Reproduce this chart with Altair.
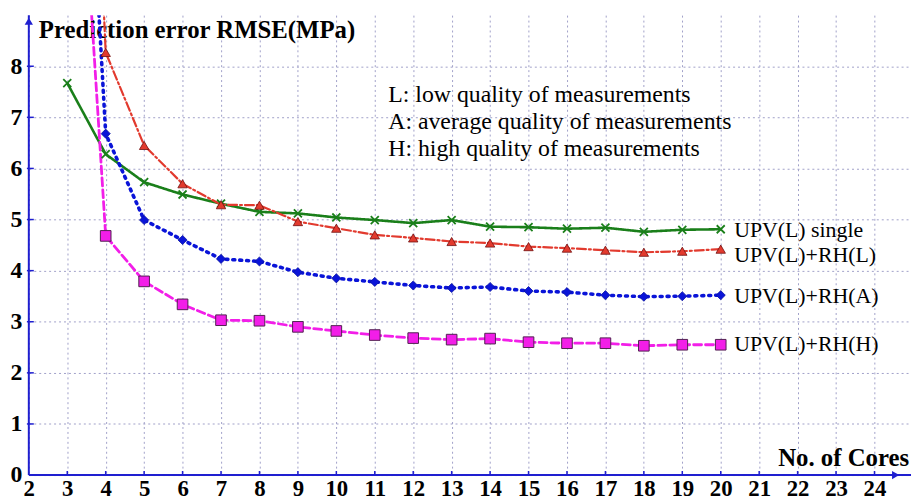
import altair as alt
import pandas as pd

# ---------------- data ----------------
cores = list(range(3, 21))
upv_single = [7.67, 6.28, 5.73, 5.49, 5.31, 5.15, 5.12, 5.04, 4.99, 4.93, 4.99, 4.86, 4.85, 4.82, 4.84, 4.76, 4.80, 4.81]
upv_rh_l = [25.0, 8.27, 6.45, 5.70, 5.29, 5.28, 4.96, 4.83, 4.70, 4.64, 4.57, 4.54, 4.47, 4.44, 4.40, 4.36, 4.38, 4.42]
upv_rh_a = [20.0, 6.68, 4.99, 4.60, 4.23, 4.18, 3.97, 3.85, 3.78, 3.71, 3.66, 3.68, 3.60, 3.58, 3.52, 3.49, 3.50, 3.52]
upv_rh_h = [16.5, 4.68, 3.79, 3.34, 3.03, 3.02, 2.90, 2.82, 2.74, 2.68, 2.65, 2.67, 2.60, 2.58, 2.58, 2.53, 2.55, 2.55]

series_names = ["UPV(L) single", "UPV(L)+RH(L)", "UPV(L)+RH(A)", "UPV(L)+RH(H)"]
series_label_y = [4.80, 4.30, 3.50, 2.57]
series_label_x = 20.35

x_ticks = list(range(2, 25))
y_ticks = list(range(0, 9))
X_MIN, X_MAX = 2, 24.95
Y_MIN, Y_MAX = 0, 9

notes = ["L: low quality of measurements",
         "A: average quality of measurements",
         "H: high quality of measurements"]
notes_x = 11.35
notes_y = [7.44, 6.90, 6.37]

y_title = "Prediction error RMSE(MPa)"
x_title = "No. of Cores"

FONT = "Liberation Serif"
AXIS_BLUE = "#1f1fd0"
GRID = "#a0a0c8"

# ---------------- encodings ----------------
xscale = alt.Scale(domain=[X_MIN, X_MAX], nice=False, zero=False)
yscale = alt.Scale(domain=[Y_MIN, Y_MAX], nice=False, zero=False)
xaxis = alt.Axis(values=x_ticks, grid=True, gridDash=[2, 3], gridColor=GRID, gridWidth=1,
                 ticks=False, domain=False, title=None, labelFont=FONT, labelFontSize=23,
                 labelFontWeight="bold", labelColor="black", labelPadding=3, labelFlush=False)
yaxis = alt.Axis(values=y_ticks, grid=True, gridDash=[2, 3], gridColor=GRID, gridWidth=1,
                 ticks=False, domain=False, title=None, labelFont=FONT, labelFontSize=24,
                 labelFontWeight="bold", labelColor="black", labelPadding=7, labelFlush=False)


def X(field="x"):
    return alt.X(f"{field}:Q", scale=xscale, axis=xaxis)


def Y(field="y"):
    return alt.Y(f"{field}:Q", scale=yscale, axis=yaxis)


# ---------------- layers ----------------
layers = []

title_df = pd.DataFrame({"x": [2.26], "y": [8.70], "t": [y_title]})
layers.append(alt.Chart(title_df).mark_text(align="left", baseline="middle", font=FONT, fontSize=25,
                                            fontWeight="bold", color="black")
              .encode(x=X(), y=Y(), text="t:N"))
xt_df = pd.DataFrame({"x": [X_MAX - 0.05], "y": [0.34], "t": [x_title]})
layers.append(alt.Chart(xt_df).mark_text(align="right", baseline="middle", font=FONT, fontSize=25,
                                         fontWeight="bold", color="black")
              .encode(x=X(), y=Y(), text="t:N"))
notes_df = pd.DataFrame({"x": [notes_x] * 3, "y": notes_y, "t": notes})
layers.append(alt.Chart(notes_df).mark_text(align="left", baseline="middle", font=FONT, fontSize=24,
                                            color="black")
              .encode(x=X(), y=Y(), text="t:N"))
lab_df = pd.DataFrame({"x": [series_label_x] * 4, "y": series_label_y, "t": series_names})
layers.append(alt.Chart(lab_df).mark_text(align="left", baseline="middle", font=FONT, fontSize=22,
                                          color="black")
              .encode(x=X(), y=Y(), text="t:N"))

# axes lines, ticks and arrows
ax_df = pd.DataFrame({"x": [X_MIN], "x2": [X_MAX], "y": [Y_MIN], "y2": [Y_MAX]})
layers.append(alt.Chart(ax_df).mark_rule(color=AXIS_BLUE, strokeWidth=2)
              .encode(x=X(), x2="x2:Q", y=Y(), y2=alt.Y2("y:Q")))
layers.append(alt.Chart(ax_df).mark_rule(color=AXIS_BLUE, strokeWidth=2)
              .encode(x=X(), x2=alt.X2("x:Q"), y=Y(), y2="y2:Q"))
xt = pd.DataFrame({"x": x_ticks[1:], "y": [Y_MIN] * (len(x_ticks) - 1), "y2": [Y_MIN + 0.08] * (len(x_ticks) - 1)})
layers.append(alt.Chart(xt).mark_rule(color=AXIS_BLUE, strokeWidth=1.5)
              .encode(x=X(), y=Y(), y2="y2:Q"))
yt = pd.DataFrame({"y": y_ticks[1:], "x": [X_MIN - 0.05] * (len(y_ticks) - 1), "x2": [X_MIN + 0.13] * (len(y_ticks) - 1)})
layers.append(alt.Chart(yt).mark_rule(color=AXIS_BLUE, strokeWidth=1.5)
              .encode(x=X(), x2="x2:Q", y=Y()))
arr_up = pd.DataFrame({"x": [X_MIN], "y": [Y_MAX - 0.12]})
layers.append(alt.Chart(arr_up).mark_point(shape="triangle-up", filled=True, color=AXIS_BLUE, size=70, opacity=1)
              .encode(x=X(), y=Y()))
arr_rt = pd.DataFrame({"x": [X_MAX - 0.4], "y": [Y_MIN]})
layers.append(alt.Chart(arr_rt).mark_point(shape="triangle-right", filled=True, color=AXIS_BLUE, size=70, opacity=1)
              .encode(x=X(), y=Y()))

# series
styles = [
    dict(vals=upv_single, color="#1a7f1a", dash=[1, 0], width=2.6,
         shape="M-1,-1L1,1M-1,1L1,-1", filled=False, size=65, stroke="#1a7f1a", sw=1.8),
    dict(vals=upv_rh_l, color="#e23a2e", dash=[9, 3, 2, 3], width=2.2,
         shape="triangle-up", filled=True, size=90, stroke="#701010", sw=0.8),
    dict(vals=upv_rh_a, color="#0a14d8", dash=[2, 5], width=3.6,
         shape="diamond", filled=True, size=85, stroke="#0a14a0", sw=0.8),
    dict(vals=upv_rh_h, color="#f21ee8", dash=[8, 4], width=2.8,
         shape="square", filled=True, size=115, stroke="#502050", sw=1.0),
]
for s in styles:
    df = pd.DataFrame({"x": cores, "y": s["vals"]})
    layers.append(alt.Chart(df).mark_line(color=s["color"], strokeDash=s["dash"], strokeWidth=s["width"],
                                          strokeCap="round", clip=True)
                  .encode(x=X(), y=Y()))
for s in styles:
    df = pd.DataFrame({"x": cores, "y": s["vals"]})
    if s["filled"]:
        pm = alt.Chart(df).mark_point(shape=s["shape"], filled=True, fill=s["color"], stroke=s["stroke"],
                                      strokeWidth=s["sw"], size=s["size"], opacity=1, clip=True)
    else:
        pm = alt.Chart(df).mark_point(shape=s["shape"], filled=False, stroke=s["stroke"],
                                      strokeWidth=s["sw"], size=s["size"], opacity=1, clip=True)
    layers.append(pm.encode(x=X(), y=Y()))

chart = alt.layer(*layers).properties(
    width=890, height=464,
    padding={"left": 2, "top": 4, "right": 0, "bottom": 0},
    background="white",
).configure_view(stroke=None)

chart.save("out.html", embed_options={"renderer": "svg", "actions": False})
